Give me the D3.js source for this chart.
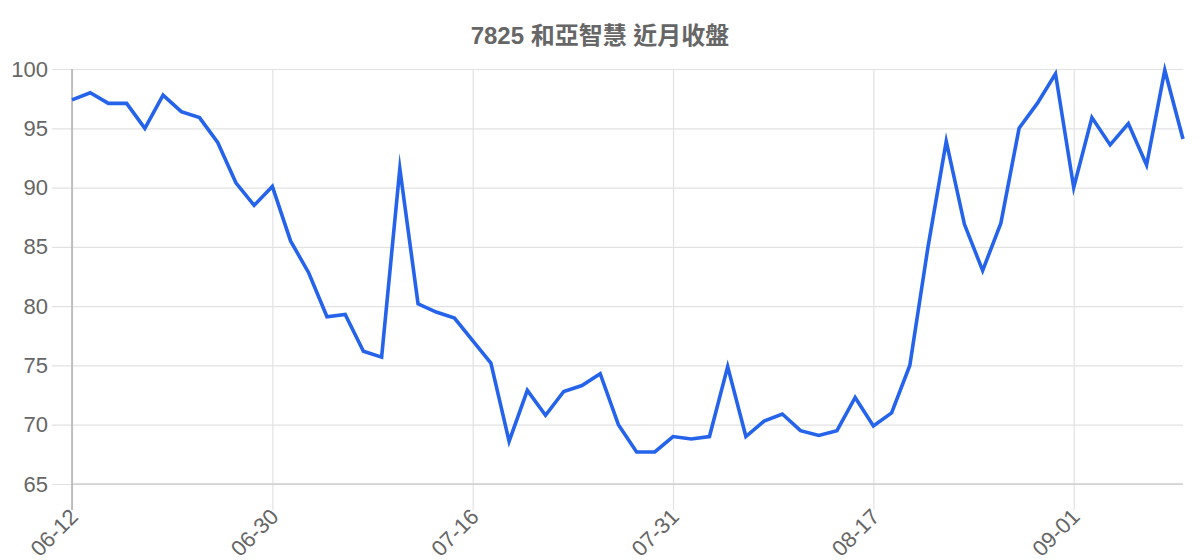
<!DOCTYPE html>
<html>
<head>
<meta charset="utf-8">
<script src="https://cdn.jsdelivr.net/npm/d3@7/dist/d3.min.js"></script>
<style>
  html, body { margin: 0; padding: 0; background: #fff; }
  svg { display: block; }
</style>
</head>
<body>
<div id="chart"></div>
<script>
// ── Data ───────────────────────────────────────────────────────────────────
const TITLE = "7825 和亞智慧 近月收盤";

const dates = [
  "06-12", "06-15", "06-16", "06-17", "06-18", "06-22", "06-23", "06-24", "06-25", "06-26",
  "06-29", "06-30", "07-01", "07-02", "07-03", "07-06", "07-07", "07-08", "07-09", "07-10",
  "07-13", "07-14", "07-16", "07-17", "07-20", "07-21", "07-22", "07-23", "07-24", "07-27",
  "07-28", "07-29", "07-30", "07-31", "08-03", "08-04", "08-05", "08-06", "08-07", "08-10",
  "08-11", "08-12", "08-13", "08-14", "08-17", "08-18", "08-19", "08-20", "08-21", "08-24",
  "08-25", "08-26", "08-27", "08-28", "08-31", "09-01", "09-02", "09-03", "09-04", "09-07",
  "09-08", "09-09",
];

const closes = [
  97.4, 98.0, 97.1, 97.1, 95.0, 97.8, 96.4, 95.9, 93.8, 90.4,
  88.5, 90.1, 85.5, 82.8, 79.1, 79.3, 76.2, 75.7, 91.6, 80.2,
  79.5, 79.0, 77.1, 75.2, 68.6, 72.9, 70.8, 72.8, 73.3, 74.3,
  70.0, 67.7, 67.7, 69.0, 68.8, 69.0, 74.9, 69.0, 70.3, 70.9,
  69.5, 69.1, 69.5, 72.3, 69.9, 71.0, 75.0, 85.0, 93.9, 86.9,
  83.0, 87.0, 95.0, 97.1, 99.6, 90.0, 95.9, 93.6, 95.4, 91.9,
  99.9, 94.1,
];

const yTicks = [65, 70, 75, 80, 85, 90, 95, 100];
const xTickLabels = ["06-12", "06-30", "07-16", "07-31", "08-17", "09-01"];

// ── Layout ─────────────────────────────────────────────────────────────────
const W = 1200, H = 560;
const M = { top: 69, right: 17, bottom: 76, left: 72 };
const FONT = "'Liberation Sans', Arial, 'Noto Sans CJK TC', sans-serif";
const LINE_COLOR = "#2563eb";

const svg = d3.select("#chart").append("svg")
  .attr("width", W).attr("height", H)
  .attr("viewBox", `0 0 ${W} ${H}`);

const x = d3.scalePoint().domain(dates).range([M.left, W - M.right]);
const y = d3.scaleLinear().domain([65, 100]).range([H - M.bottom, M.top]);

// ── Title ──────────────────────────────────────────────────────────────────
svg.append("text")
  .attr("x", W / 2).attr("y", 44)
  .attr("text-anchor", "middle")
  .attr("fill", "#666").attr("font-size", "24px").attr("font-weight", "bold")
  .attr("font-family", FONT)
  .text(TITLE);

// ── Y grid + labels ────────────────────────────────────────────────────────
const yAxis = d3.axisLeft(y)
  .tickValues(yTicks)
  .tickSize(-(W - M.left - M.right + 20))
  .tickPadding(4)
  .tickFormat(d3.format("d"));

const yG = svg.append("g")
  .attr("transform", `translate(${M.left - 20},0)`)
  .call(yAxis);
yG.select(".domain").remove();
yG.selectAll(".tick line").attr("stroke", "#e2e2e2").attr("stroke-width", 1.2);
yG.selectAll(".tick text")
  .attr("fill", "#666").attr("font-size", "22px").attr("font-family", FONT);

// ── X grid + labels ────────────────────────────────────────────────────────
const xAxis = d3.axisBottom(x)
  .tickValues(xTickLabels)
  .tickSize(-(H - M.top - M.bottom))
  .tickSizeOuter(0);

const xG = svg.append("g")
  .attr("transform", `translate(0,${H - M.bottom})`)
  .call(xAxis);
xG.select(".domain").remove();
xG.selectAll(".tick line").attr("stroke", "#e2e2e2").attr("stroke-width", 1.2);
// short tick stubs below the plot
xG.selectAll(".tick").append("line")
  .attr("y1", 0).attr("y2", 26)
  .attr("stroke", "#e2e2e2").attr("stroke-width", 1.2);
xG.selectAll(".tick text")
  .attr("fill", "#666").attr("font-size", "22px").attr("font-family", FONT)
  .attr("text-anchor", "end")
  .attr("dy", null).attr("y", null)
  .attr("transform", "translate(7,34) rotate(-45)");

// ── Axis lines ─────────────────────────────────────────────────────────────
svg.append("line")
  .attr("x1", M.left).attr("x2", W - M.right)
  .attr("y1", y(65)).attr("y2", y(65))
  .attr("stroke", "#cfcfcf").attr("stroke-width", 1.3);
svg.append("line")
  .attr("x1", M.left).attr("x2", M.left)
  .attr("y1", M.top).attr("y2", H - M.bottom + 26)
  .attr("stroke", "#b0b0b0").attr("stroke-width", 1.5);

// ── Close line ─────────────────────────────────────────────────────────────
const line = d3.line()
  .x((d, i) => x(dates[i]))
  .y((d) => y(d));

svg.append("path")
  .datum(closes)
  .attr("d", line)
  .attr("fill", "none")
  .attr("stroke", LINE_COLOR)
  .attr("stroke-width", 3.6)
  .attr("stroke-linejoin", "miter")
  .attr("stroke-miterlimit", 10);
</script>
</body>
</html>
